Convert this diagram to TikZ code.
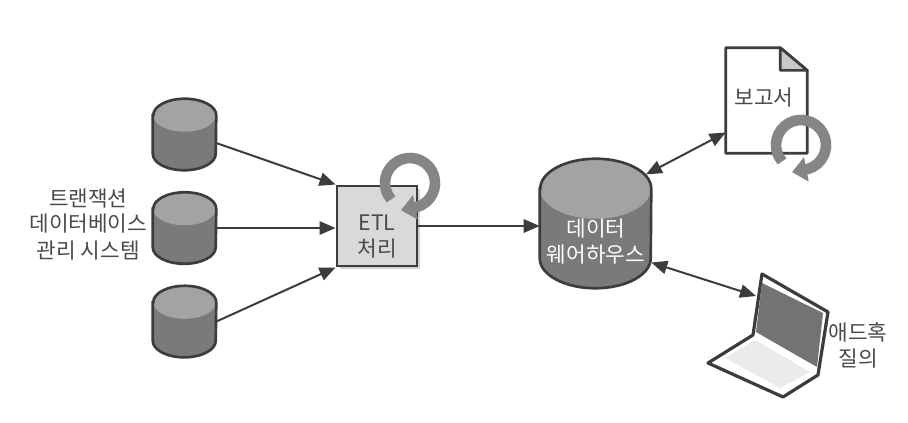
\documentclass[tikz,border=0pt]{standalone}
\usepackage{fontspec}
\setmainfont{Noto Sans CJK KR}
\usetikzlibrary{
    arrows.meta,
    positioning,
    shadows
}
\definecolor{inkgray}{HTML}{3C3C3C}
\definecolor{textgray}{HTML}{4A4A4A}
\definecolor{ringgray}{HTML}{858585}

\begin{document}
\begin{tikzpicture}[
    x=0.75pt,
    y=0.75pt,
    >={Triangle[length=12pt,width=10pt]},
    database/.style={
        rectangle,
        minimum width=47.25pt,
        minimum height=53.25pt,
        inner sep=0pt
    },
    link/.style={
        draw=inkgray,
        line width=1.5pt
    },
    caption/.style={
        align=center,
        text=textgray,
        font=\fontsize{16}{19.5}\selectfont,
        inner sep=0pt
    },
    ring/.style={
        draw=ringgray,
        line width=8pt,
        -{Triangle[length=11pt,width=18pt]}
    }
]
\useasboundingbox (0,0) rectangle (908,422);

%--------------------------------------------------
\node[database] (source_a) at (184.5,287.5) {};
\node[database,below=16.5pt of source_a] (source_b) {};
\node[database,below=16.5pt of source_b] (source_c) {};

\node[
    database,
    minimum width=83.25pt,
    minimum height=96.75pt
] (warehouse) at (595.5,198.5) {};

% Cylinders
\foreach \can/\rx/\ry in {source_a/31.5/16.5,source_b/31.5/16.5,source_c/31.5/16.5,warehouse/55.5/30}
{
    \fill[black!52] (\can.north west) ++(0,-\ry)
        -- ([yshift=\ry*0.75]\can.south west)
        arc[start angle=180,end angle=360,x radius=\rx,y radius=\ry]
        -- ([yshift=-\ry*0.75]\can.north east)
        -- cycle;
    \fill[black!36] (\can.north) ++(0,-\ry) ellipse[x radius=\rx,y radius=\ry];
    \draw[draw=inkgray,line width=2pt] (\can.north west) ++(0,-\ry)
        -- ([yshift=\ry*0.75]\can.south west)
        arc[start angle=180,end angle=360,x radius=\rx,y radius=\ry]
        -- ([yshift=-\ry*0.75]\can.north east)
        arc[start angle=0,end angle=180,x radius=\rx,y radius=\ry]
        -- cycle;
}

\node[caption,left=4pt of source_b,yshift=3pt] (source_label)
{
트랜잭션\\
데이터베이스\\
관리 시스템
};

\node[
    rectangle,
    draw=inkgray,
    line width=2.2pt,
    fill=black!15,
    drop shadow={shadow xshift=2pt,shadow yshift=-2pt,fill=black!35},
    minimum width=60pt,
    minimum height=60pt
] (etl) at (377,196) {};

\node[caption,text=white] (warehouse_label) at (596,180)
{
데이터\\
웨어하우스
};

% Report
\node[
    rectangle,
    minimum width=60.75pt,
    minimum height=78.75pt,
    inner sep=0pt
] (report) at (766.5,321.5) {};

\draw[draw=inkgray,line width=2pt,fill=white,line join=round]
    (report.north west)
    -- ([xshift=-20.25pt]report.north east)
    -- ([yshift=-17pt]report.north east)
    -- (report.south east)
    -- (report.south west)
    -- cycle;
\draw[draw=inkgray,line width=2pt,fill=black!22,line join=round]
    ([xshift=-20.25pt]report.north east)
    -- ([yshift=-17pt]report.north east)
    -- ([xshift=-20.25pt,yshift=-17pt]report.north east)
    -- cycle;
\node[caption] (report_label) at (764,324) {보고서};

% Laptop
\coordinate (lid_a) at (762,148);
\coordinate (lid_b) at (828,110);
\coordinate (lid_c) at (818,47);
\coordinate (hinge) at (753,87);
\coordinate (base_a) at (708,59);
\coordinate (base_b) at (783,25);
\coordinate (laptop) at (756,126);

\draw[draw=inkgray,line width=2.4pt,fill=white,line join=round]
    (lid_a) -- (lid_b) -- (lid_c) -- (base_b) -- (base_a) -- (hinge) -- cycle;
\fill[black!55] (762,139) -- (823,109) -- (817,55) -- (756,90) -- cycle;
\fill[black!8] (725,64) -- (755,82) -- (810,50) -- (780,34) -- cycle;
\node[caption] (laptop_label) at (858,77)
{
애드혹\\
질의
};

%--------------------------------------------------
\draw[link,->] (source_a.-15) -- (etl.north west);
\draw[link,->] (source_b.east) -- (source_b.east -| etl.west);
\draw[link,->] (source_c.east) -- (etl.south west);

\draw[link,->] (etl.east) -- (etl.east -| warehouse.west);

\draw[link,<->] ([xshift=-4pt,yshift=-5pt]warehouse.45) -- ([yshift=-24pt]report.west);
\draw[link,<->] (warehouse.-35) -- (laptop);

%--------------------------------------------------
\node[caption] (etl_label) at (377,185)
{
ETL\\
처리
};

\foreach \cx/\cy in {410/239,801/277}
{
    \draw[ring] (\cx,\cy) ++(221:25) arc[start angle=221,end angle=-75,radius=25] -- ++(-15.5,-3);
}

\end{tikzpicture}
\end{document}
